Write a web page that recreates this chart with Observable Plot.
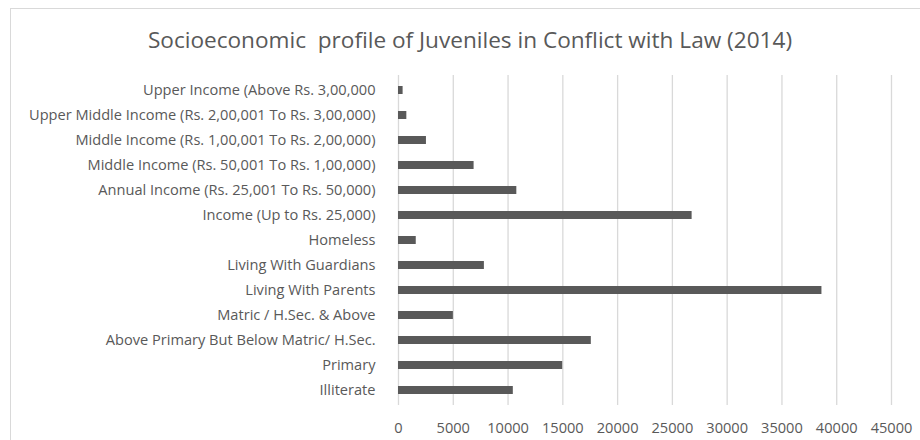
<!DOCTYPE html>
<html>
<head>
<meta charset="utf-8">
<script src="https://cdn.jsdelivr.net/npm/d3@7"></script>
<script src="https://cdn.jsdelivr.net/npm/@observablehq/plot@0.6"></script>
<style>
  html, body { margin: 0; padding: 0; background: #fff; }
  #wrap { position: relative; width: 920px; height: 440px; overflow: hidden; background: #fff; }
  #frame { position: absolute; left: 10px; top: 8px; width: 940px; height: 460px; border: 1.5px solid #d9d9d9; box-sizing: border-box; }
  #title { position: absolute; left: 10px; top: 0; width: 920px; height: 60px; line-height: 60px; padding-top: 10px; box-sizing: border-box;
           text-align: center; font-family: "Open Sans", sans-serif; font-size: 22.6px; color: #595959; white-space: pre; }
  #chart { position: absolute; left: 0; top: 60px; }
</style>
</head>
<body>
<div id="wrap">
  <div id="frame"></div>
  <div id="title">Socioeconomic  profile of Juveniles in Conflict with Law (2014)</div>
  <div id="chart"></div>
</div>
<script>
const categories = [
  "Upper Income (Above Rs. 3,00,000",
  "Upper Middle Income (Rs. 2,00,001 To Rs. 3,00,000)",
  "Middle Income (Rs. 1,00,001 To Rs. 2,00,000)",
  "Middle Income (Rs. 50,001 To Rs. 1,00,000)",
  "Annual Income (Rs. 25,001 To Rs. 50,000)",
  "Income (Up to Rs. 25,000)",
  "Homeless",
  "Living With Guardians",
  "Living With Parents",
  "Matric / H.Sec. & Above",
  "Above Primary But Below Matric/ H.Sec.",
  "Primary",
  "Illiterate"
];
const values = [420, 760, 2550, 6900, 10800, 26800, 1620, 7840, 38650, 5010, 17600, 14990, 10480];
const xTicks = [0, 5000, 10000, 15000, 20000, 25000, 30000, 35000, 40000, 45000];

const data = categories.map((c, i) => ({category: c, value: values[i]}));

const chart = Plot.plot({
  width: 920,
  height: 380,
  marginTop: 15,
  marginBottom: 35,
  marginLeft: 398,
  marginRight: 29,
  style: {fontFamily: "'Open Sans', sans-serif", fontSize: "14.6px", color: "#595959", background: "transparent"},
  x: {domain: [0, 45000], ticks: xTicks, label: null},
  y: {domain: categories, label: null, paddingInner: 0.67, paddingOuter: 0.335},
  marks: [
    Plot.gridX(xTicks, {stroke: "#d9d9d9", strokeOpacity: 1, strokeWidth: 1.3}),
    Plot.barX(data, {x: "value", y: "category", fill: "#595959"}),
    Plot.axisX(xTicks, {tickSize: 0, tickPadding: 17, tickFormat: d => String(d), fill: "#595959", fontSize: 14.6, label: null}),
    Plot.axisY({tickSize: 0, tickPadding: 23, fill: "#595959", fontSize: 14.6, label: null})
  ]
});
document.getElementById("chart").appendChild(chart);
</script>
</body>
</html>
